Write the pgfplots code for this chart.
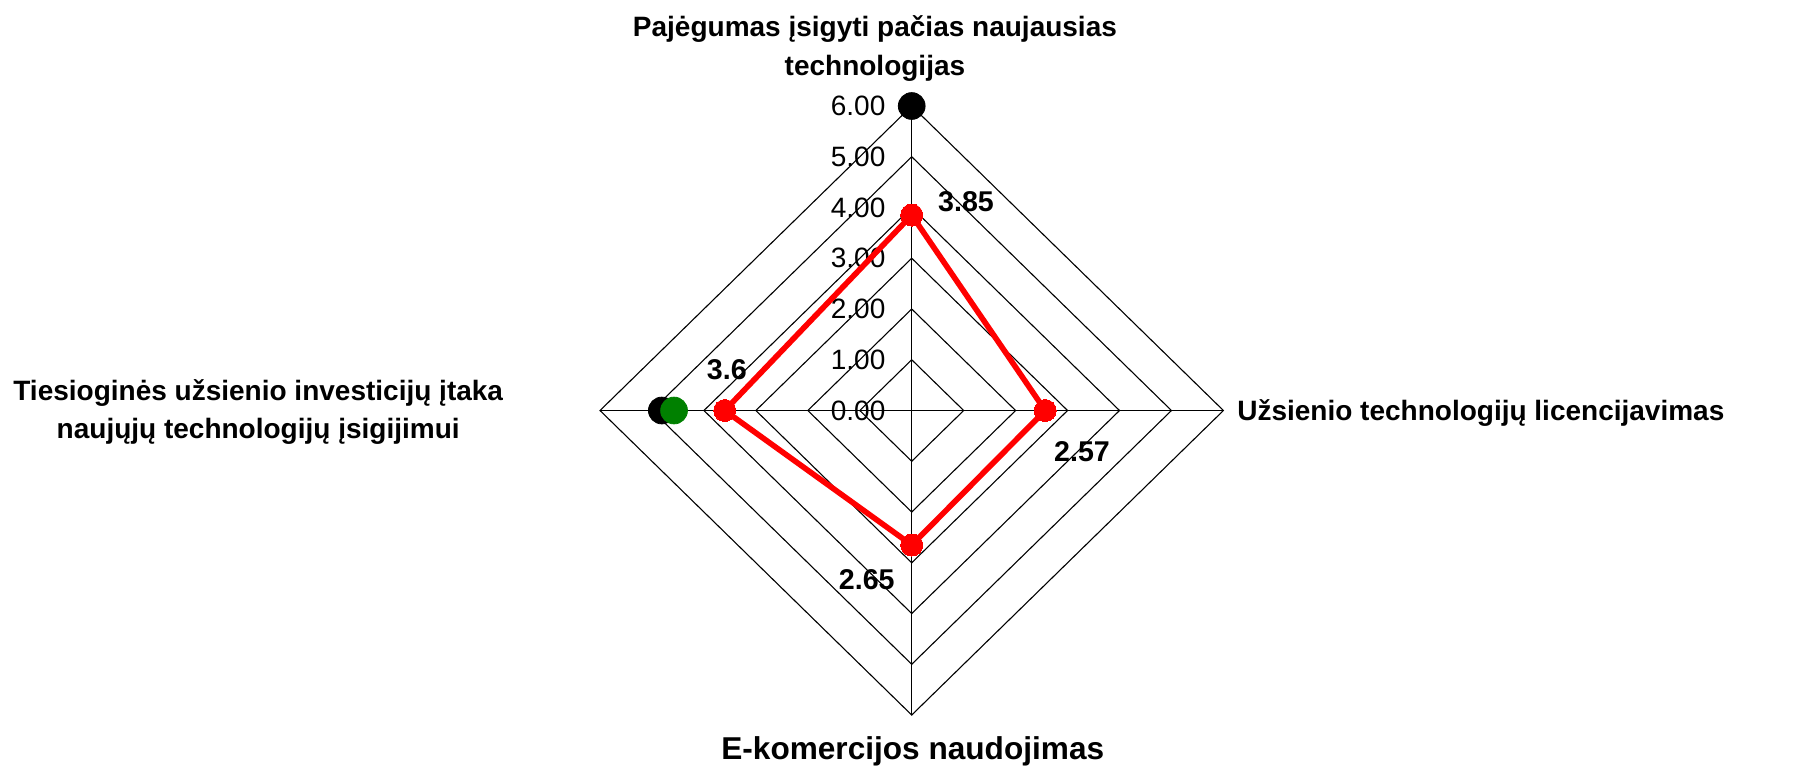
\documentclass[border=0pt]{standalone}
\usepackage{pgfplots}
\pgfplotsset{compat=1.18}
\usepackage{fontspec}
\setmainfont{Liberation Sans}
\definecolor{xlgreen}{RGB}{0,128,0}
\tikzset{
  gridline/.style={black, line width=0.55pt, mark=none},
  tlab/.style={anchor=east, inner sep=0pt, font=\fontsize{14}{16}\selectfont},
  dlab/.style={font=\bfseries\fontsize{14.3}{16}\selectfont},
  clab/.style={inner sep=0pt, font=\bfseries\fontsize{14}{16}\selectfont},
}
\begin{document}
\begin{tikzpicture}
\begin{axis}[
  scale only axis, width=900pt, height=384pt,
  xmin=-17.550, xmax=17.099, ymin=-7.044, ymax=8.089,
  hide axis, clip=false,
]
% rings
\addplot[gridline] coordinates {(0,1) (1,0) (0,-1) (-1,0) (0,1)};
\addplot[gridline] coordinates {(0,2) (2,0) (0,-2) (-2,0) (0,2)};
\addplot[gridline] coordinates {(0,3) (3,0) (0,-3) (-3,0) (0,3)};
\addplot[gridline] coordinates {(0,4) (4,0) (0,-4) (-4,0) (0,4)};
\addplot[gridline] coordinates {(0,5) (5,0) (0,-5) (-5,0) (0,5)};
\addplot[gridline] coordinates {(0,6) (6,0) (0,-6) (-6,0) (0,6)};
% spokes
\addplot[gridline] coordinates {(0,0) (0,6)};
\addplot[gridline] coordinates {(0,0) (6,0)};
\addplot[gridline] coordinates {(0,0) (0,-6)};
\addplot[gridline] coordinates {(0,0) (-6,0)};
% tick labels
\node[tlab] at (axis cs:-0.50,0) {0.00};
\node[tlab] at (axis cs:-0.50,1) {1.00};
\node[tlab] at (axis cs:-0.50,2) {2.00};
\node[tlab] at (axis cs:-0.50,3) {3.00};
\node[tlab] at (axis cs:-0.50,4) {4.00};
\node[tlab] at (axis cs:-0.50,5) {5.00};
\node[tlab] at (axis cs:-0.50,6) {6.00};
% black series
\addplot[only marks, mark=*, mark size=6.7pt, black, mark options={fill=black}] coordinates {(0,6) (-4.81,0)};
% green series
\addplot[only marks, mark=*, mark size=6.7pt, xlgreen, mark options={fill=xlgreen}] coordinates {(-4.575,0)};
% red series
\addplot[red, line width=2.8pt, mark=*, mark size=5.5pt, mark options={fill=red, line width=0pt}] coordinates {(0,3.85) (2.57,0) (0,-2.65) (-3.6,0) (0,3.85)};
% data labels
\node[dlab] at (axis cs:1.045,4.108) {3.85};
\node[dlab] at (axis cs:3.278,-0.818) {2.57};
\node[dlab] at (axis cs:-0.866,-3.34) {2.65};
\node[dlab] at (axis cs:-3.56,0.806) {3.6};
% category labels
\node[clab, anchor=base] at (axis cs:-0.708,7.36) {Pajėgumas įsigyti pačias naujausias};
\node[clab, anchor=base] at (axis cs:-0.708,6.61) {technologijas};
\node[clab, anchor=base west] at (axis cs:6.26,-0.19) {Užsienio technologijų licencijavimas};
\node[clab, anchor=base, font=\bfseries\fontsize{15.8}{18}\selectfont] at (axis cs:0.02,-6.88) {E-komercijos naudojimas};
\node[clab, anchor=base] at (axis cs:-12.58,0.207) {Tiesioginės užsienio investicijų įtaka};
\node[clab, anchor=base] at (axis cs:-12.58,-0.542) {naujųjų technologijų įsigijimui};
\end{axis}
\pgfresetboundingbox
\useasboundingbox (current axis.south west) rectangle (current axis.north east);
\end{tikzpicture}
\end{document}
